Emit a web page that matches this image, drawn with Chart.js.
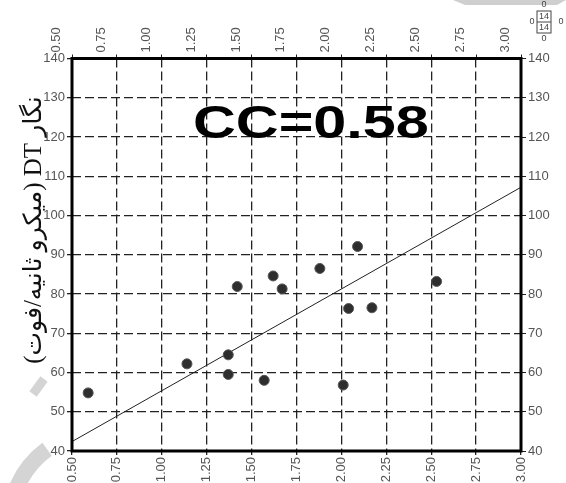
<!DOCTYPE html>
<html>
<head>
<meta charset="utf-8">
<script src="https://cdn.jsdelivr.net/npm/chart.js@4"></script>
<style>
  html, body { margin: 0; padding: 0; background: #fff; }
  #wrap { width: 566px; height: 483px; }
</style>
</head>
<body>
<div id="wrap"><canvas id="dt_chart"></canvas></div>
<script>
// values
const xVals = [0.59, 1.14, 1.37, 1.37, 1.42, 1.57, 1.62, 1.67, 1.88, 2.09, 2.04, 2.17, 2.01, 2.53];
const yVals = [54.8, 62.2, 64.5, 59.5, 81.9, 58.0, 84.6, 81.3, 86.5, 92.1, 76.3, 76.5, 56.8, 83.2];
const fitX = [0.5, 3.0];
const fitY = [42.4, 107.2];
const xTicks = [0.5, 0.75, 1.0, 1.25, 1.5, 1.75, 2.0, 2.25, 2.5, 2.75, 3.0];
const yTicks = [40, 50, 60, 70, 80, 90, 100, 110, 120, 130, 140];
const yTitle = 'نگار DT (میکرو ثانیه/فوت)';
const ccLabel = 'CC=0.58';
const ccAt = [1.83, 119.7];

const points = xVals.map((x, i) => ({ x: x, y: yVals[i] }));
const fitLine = fitX.map((x, i) => ({ x: x, y: fitY[i] }));

const tickFont = { family: 'Liberation Sans, Arial, sans-serif', size: 13 };
const tickColor = '#555';
const dash = [9, 4];

const fixSize = (w, h) => function (scale) {
  if (w != null) scale.width = w;
  if (h != null) scale.height = h;
};

// faint watermark bits from the scanned page
const watermark = {
  id: 'watermark',
  beforeDraw(chart) {
    const c = chart.ctx;
    c.save();
    c.fillStyle = '#cfcfcf';
    c.beginPath();
    c.moveTo(453, 0); c.lineTo(566, 0); c.lineTo(557, 5); c.lineTo(465, 5);
    c.closePath();
    c.fill();
    c.strokeStyle = '#d4d4d4';
    c.lineWidth = 9;
    c.beginPath();
    c.moveTo(33, 394); c.lineTo(44, 379);
    c.stroke();
    c.lineWidth = 16;
    c.beginPath();
    c.arc(100, 522, 90, 200 * Math.PI / 180, 234 * Math.PI / 180);
    c.stroke();
    c.restore();
  }
};

const extras = {
  id: 'extras',
  afterDatasetsDraw(chart) {
    const c = chart.ctx;
    const a = chart.chartArea;
    const sx = chart.scales.x, sy = chart.scales.y;
    // frame
    c.save();
    c.strokeStyle = '#000';
    c.lineWidth = 3;
    c.strokeRect(a.left, a.top, a.right - a.left, a.bottom - a.top);
    // CC text
    c.translate(sx.getPixelForValue(ccAt[0]), sy.getPixelForValue(ccAt[1]));
    c.scale(1.29, 1);
    c.fillStyle = '#000';
    c.font = 'bold 46px Liberation Sans, Arial, sans-serif';
    c.textAlign = 'center';
    c.textBaseline = 'alphabetic';
    c.fillText(ccLabel, 0, 0);
    c.restore();

    // y title
    c.save();
    c.translate(34, 230);
    c.rotate(-Math.PI / 2);
    c.direction = 'rtl';
    c.fillStyle = '#111';
    c.font = '25px Liberation Serif, DejaVu Sans, serif';
    c.textAlign = 'center';
    c.textBaseline = 'middle';
    c.fillText(yTitle, 0, 0);
    c.restore();

    // little 14/14 box top right
    c.save();
    c.strokeStyle = '#444';
    c.lineWidth = 1;
    c.strokeRect(537, 11, 14, 22);
    c.beginPath();
    c.moveTo(537, 22); c.lineTo(551, 22);
    c.stroke();
    c.fillStyle = '#444';
    c.font = '9px Liberation Sans, Arial, sans-serif';
    c.textAlign = 'center';
    c.textBaseline = 'middle';
    c.fillText('14', 544, 16.5);
    c.fillText('14', 544, 27.5);
    c.fillText('0', 544, 5);
    c.fillText('0', 544, 39);
    c.fillText('0', 532, 22);
    c.fillText('0', 561, 22);
    c.restore();
  }
};

new Chart(document.getElementById('dt_chart'), {
  type: 'scatter',
  data: {
    datasets: [{
      data: points,
      pointRadius: 5,
      pointHoverRadius: 5,
      pointBackgroundColor: '#2e2e2e',
      pointBorderColor: '#555',
      pointBorderWidth: 1
    }, {
      type: 'line',
      data: fitLine,
      borderColor: '#222',
      borderWidth: 1,
      pointRadius: 0,
      fill: false
    }]
  },
  options: {
    responsive: true,
    maintainAspectRatio: false,
    animation: false,
    events: [],
    layout: { padding: 0 },
    plugins: {
      legend: { display: false },
      tooltip: { enabled: false }
    },
    scales: {
      x: {
        type: 'linear',
        position: 'bottom',
        min: 0.5, max: 3.0,
        afterFit: fixSize(null, 32),
        afterBuildTicks: s => { s.ticks = xTicks.map(v => ({ value: v })); },
        ticks: {
          minRotation: 90, maxRotation: 90,
          padding: 2,
          color: tickColor, font: tickFont,
          callback: v => v.toFixed(2)
        },
        grid: { color: '#222', lineWidth: 1.3, tickLength: 4, tickColor: '#222' },
        border: { display: false, dash: dash }
      },
      x2: {
        type: 'linear',
        position: 'top',
        min: 0.5, max: 3.0,
        afterFit: fixSize(null, 58.5),
        afterBuildTicks: s => { s.ticks = xTicks.map(v => ({ value: v })); },
        ticks: {
          minRotation: 90, maxRotation: 90,
          padding: 2,
          color: tickColor, font: tickFont,
          callback: v => v.toFixed(2)
        },
        grid: { drawOnChartArea: false, tickLength: 4, tickColor: '#222' },
        border: { display: false }
      },
      y: {
        type: 'linear',
        position: 'left',
        min: 40, max: 140,
        afterFit: fixSize(72, null),
        afterBuildTicks: s => { s.ticks = yTicks.map(v => ({ value: v })); },
        ticks: { padding: 2, color: tickColor, font: tickFont },
        grid: { color: '#222', lineWidth: 1.3, tickLength: 5, tickColor: '#222' },
        border: { display: false, dash: dash }
      },
      y2: {
        type: 'linear',
        position: 'right',
        min: 40, max: 140,
        afterFit: fixSize(45, null),
        afterBuildTicks: s => { s.ticks = yTicks.map(v => ({ value: v })); },
        ticks: { padding: 2, color: tickColor, font: tickFont },
        grid: { drawOnChartArea: false, tickLength: 5, tickColor: '#222' },
        border: { display: false }
      }
    }
  },
  plugins: [watermark, extras]
});
</script>
</body>
</html>
